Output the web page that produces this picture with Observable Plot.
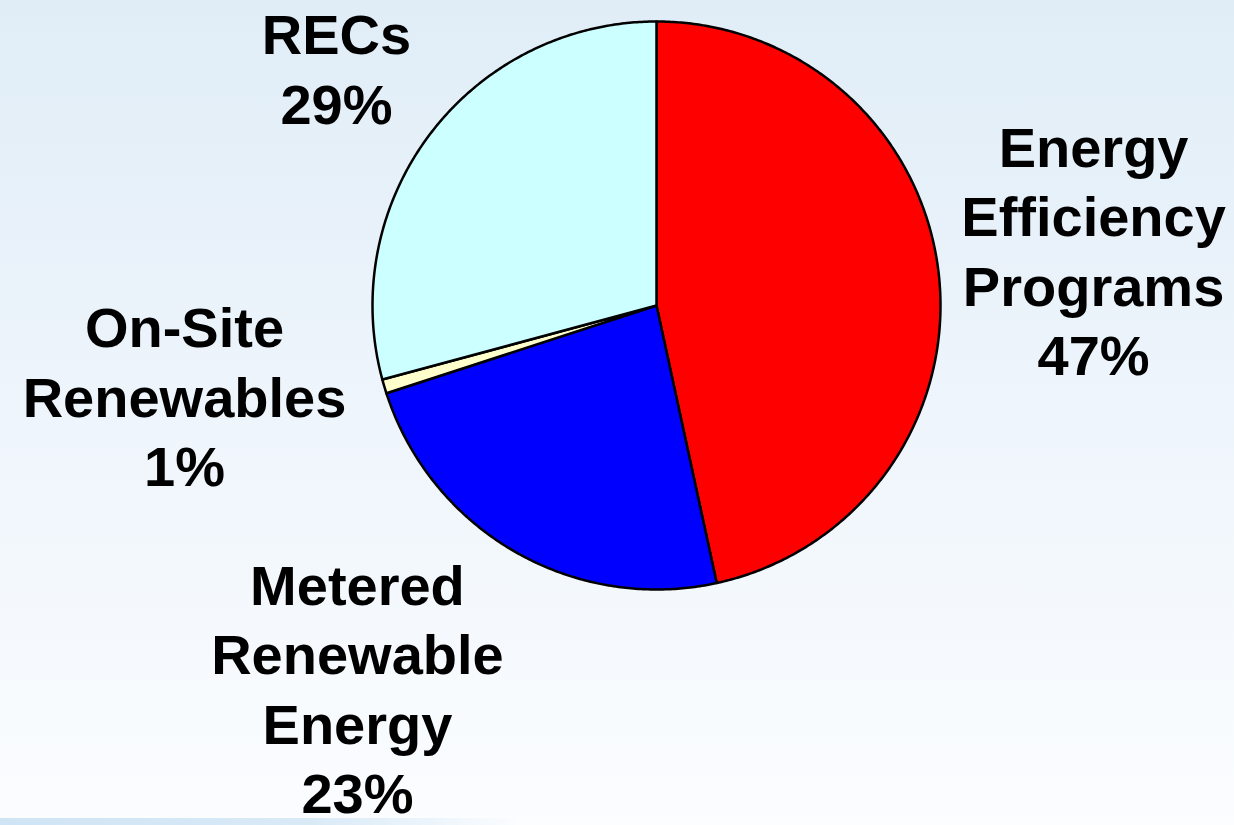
<!DOCTYPE html>
<html>
<head>
<meta charset="utf-8">
<script src="https://cdn.jsdelivr.net/npm/d3@7"></script>
<script src="https://cdn.jsdelivr.net/npm/@observablehq/plot@0.6"></script>
<style>
  html, body { margin: 0; padding: 0; }
  body {
    width: 1234px; height: 825px; overflow: hidden; position: relative;
    background: linear-gradient(to bottom, #e0edf7 0%, #edf4fb 45%, #fbfdff 100%);
    font-family: "Liberation Sans", Arial, sans-serif;
  }
  #strip {
    position: absolute; left: 0; top: 818px; width: 520px; height: 7px;
    background: linear-gradient(to right, #cfe4f5 0%, #d9eaf7 60%, rgba(240,247,253,0) 100%);
  }
  #chart { position: absolute; left: 0; top: 0; }
  #chart svg { background: transparent; overflow: visible; }
</style>
</head>
<body>
<div id="chart"></div>
<div id="strip"></div>
<script>
// ---- data ----
const categories = ["Energy\nEfficiency\nPrograms", "Metered\nRenewable\nEnergy", "On-Site\nRenewables", "RECs"];
const values = [46.6, 23.4, 0.8, 29.2];
const colors = ["#ff0000", "#0000ff", "#ffffcc", "#ccffff"];

// ---- layout (label placement, in pie-radius units) ----
const labelOffsets = [[1.539, 0.20], [-1.053, -1.342], [-1.662, -0.313], [-1.127, 0.84]];

const total = d3.sum(values);
let acc = 0;
const slices = values.map((v, i) => {
  const a0 = acc / total * 2 * Math.PI;
  acc += v;
  const a1 = acc / total * 2 * Math.PI;
  const n = Math.max(2, Math.ceil((a1 - a0) / (Math.PI / 360)));
  const ring = [[0, 0]];
  for (let k = 0; k <= n; k++) {
    const t = a0 + (a1 - a0) * k / n;
    ring.push([Math.sin(t), Math.cos(t)]);
  }
  ring.push([0, 0]);
  return {
    type: "Feature",
    properties: {category: categories[i], value: v, color: colors[i]},
    geometry: {type: "Polygon", coordinates: [ring]}
  };
});

const labels = categories.map((c, i) => ({
  text: c + "\n" + Math.round(values[i]) + "%",
  x: labelOffsets[i][0],
  y: labelOffsets[i][1]
}));

const frame = {type: "Polygon", coordinates: [[[-1, -1], [1, -1], [1, 1], [-1, 1], [-1, -1]]]};

const chart = Plot.plot({
  width: 1234,
  height: 825,
  marginLeft: 372,
  marginRight: 294,
  marginTop: 21,
  marginBottom: 236,
  style: {background: "transparent", overflow: "visible"},
  projection: {type: "reflect-y", domain: frame, clip: false},
  marks: [
    Plot.geo(slices, {fill: d => d.properties.color, stroke: "black", strokeWidth: 2.5, strokeLinejoin: "round"}),
    Plot.text(labels, {
      x: "x", y: "y", text: "text",
      fontSize: 56, fontWeight: "bold", fontFamily: "Liberation Sans, Arial, sans-serif",
      lineHeight: 1.24, textAnchor: "middle", lineAnchor: "middle", fill: "black"
    })
  ]
});
document.getElementById("chart").appendChild(chart);
</script>
</body>
</html>
